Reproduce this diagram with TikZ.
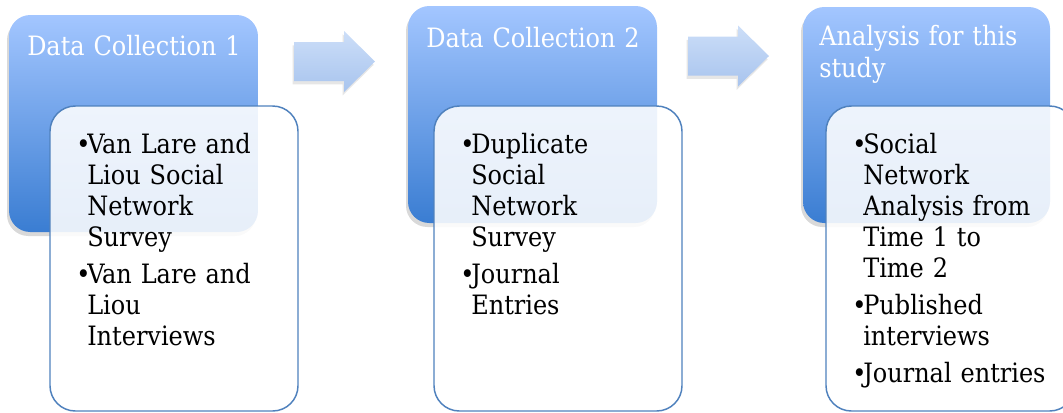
\documentclass[tikz,border=0pt]{standalone}
\usepackage{fontspec}
\setmainfont{DejaVu Serif Condensed}
\usetikzlibrary{fit,shadows}

\definecolor{stagetop}{RGB}{163,198,255}
\definecolor{stagebottom}{RGB}{58,125,210}
\definecolor{listline}{RGB}{79,129,189}
\definecolor{arrowtop}{RGB}{204,222,248}
\definecolor{arrowbottom}{RGB}{168,196,238}

\newlength{\bulletw}\setlength{\bulletw}{8.25pt}
\newcommand{\fitem}[1]{\leavevmode\hangindent=\bulletw\hangafter=1\makebox[\bulletw][l]{\textbullet}#1\par}
\newcommand{\bitem}[1]{\vskip4.5pt\noindent\hangindent=\bulletw\hangafter=1\makebox[\bulletw][l]{\textbullet}#1\par}
\newcommand{\nl}{\newline}

\begin{document}
\begin{tikzpicture}[x=0.75pt,y=-0.75pt,
    stagebox/.style={rounded corners=16pt,top color=stagetop,bottom color=stagebottom,
      drop shadow={shadow xshift=-1.5pt,shadow yshift=-3pt,opacity=.3},inner sep=0pt},
    listbox/.style={rounded corners=19pt,draw=listline,line width=1.1pt,fill=white,
      fill opacity=.88,inner sep=0pt},
    stagetitle/.style={text=white,font=\fontsize{20}{24}\selectfont,text width=175pt,
      align=left,inner sep=0pt,anchor=base west},
    listtext/.style={font=\fontsize{20}{23.25}\selectfont,text width=180pt,
      align=left,inner sep=0pt,anchor=base west},
    pics/flowarrow/.style={code={
      \path[top color=arrowtop,bottom color=arrowbottom,
        drop shadow={shadow xshift=-1pt,shadow yshift=-2.5pt,opacity=.2}]
        (0,-19.5) -- (50,-19.5) -- (50,-30.5) -- (81,0) -- (50,30.5) -- (50,19.5) -- (0,19.5) -- cycle;}}]
    \useasboundingbox (0,0) rectangle (1063,412);

    % stage 1
    \node[stagebox,fit={(9,15) (258,232)}] (stage1) {};
    \node[stagetitle] (title1) at (27,55) {Data Collection 1};
    \node[listbox,fit={(50,106) (298,411)}] (box1) {};
    \node[listtext] (list1) at (76,153) {\fitem{Van Lare and\nl Liou Social\nl Network\nl Survey}
      \bitem{Van Lare and\nl Liou\nl Interviews}};

    \pic at (294,61.5) {flowarrow};

    % stage 2
    \node[stagebox,fit={(408,6) (657,223)}] (stage2) {};
    \node[stagetitle] (title2) at (426,47) {Data Collection 2};
    \node[listbox,fit={(434,106) (682,411)}] (box2) {};
    \node[listtext] (list2) at (460,153) {\fitem{Duplicate\nl Social\nl Network\nl Survey}
      \bitem{Journal\nl Entries}};

    \pic at (688,56) {flowarrow};

    % stage 3
    \node[stagebox,fit={(803,7) (1050,223)}] (stage3) {};
    \node[stagetitle] (title3) at (819,45) {Analysis for this\\study};
    \node[listbox,fit={(826,106) (1075,411)}] (box3) {};
    \node[listtext] (list3) at (852,153) {\fitem{Social\nl Network\nl Analysis from\nl Time 1 to\nl Time 2}
      \bitem{Published\nl interviews}
      \bitem{Journal entries}};
\end{tikzpicture}
\end{document}
